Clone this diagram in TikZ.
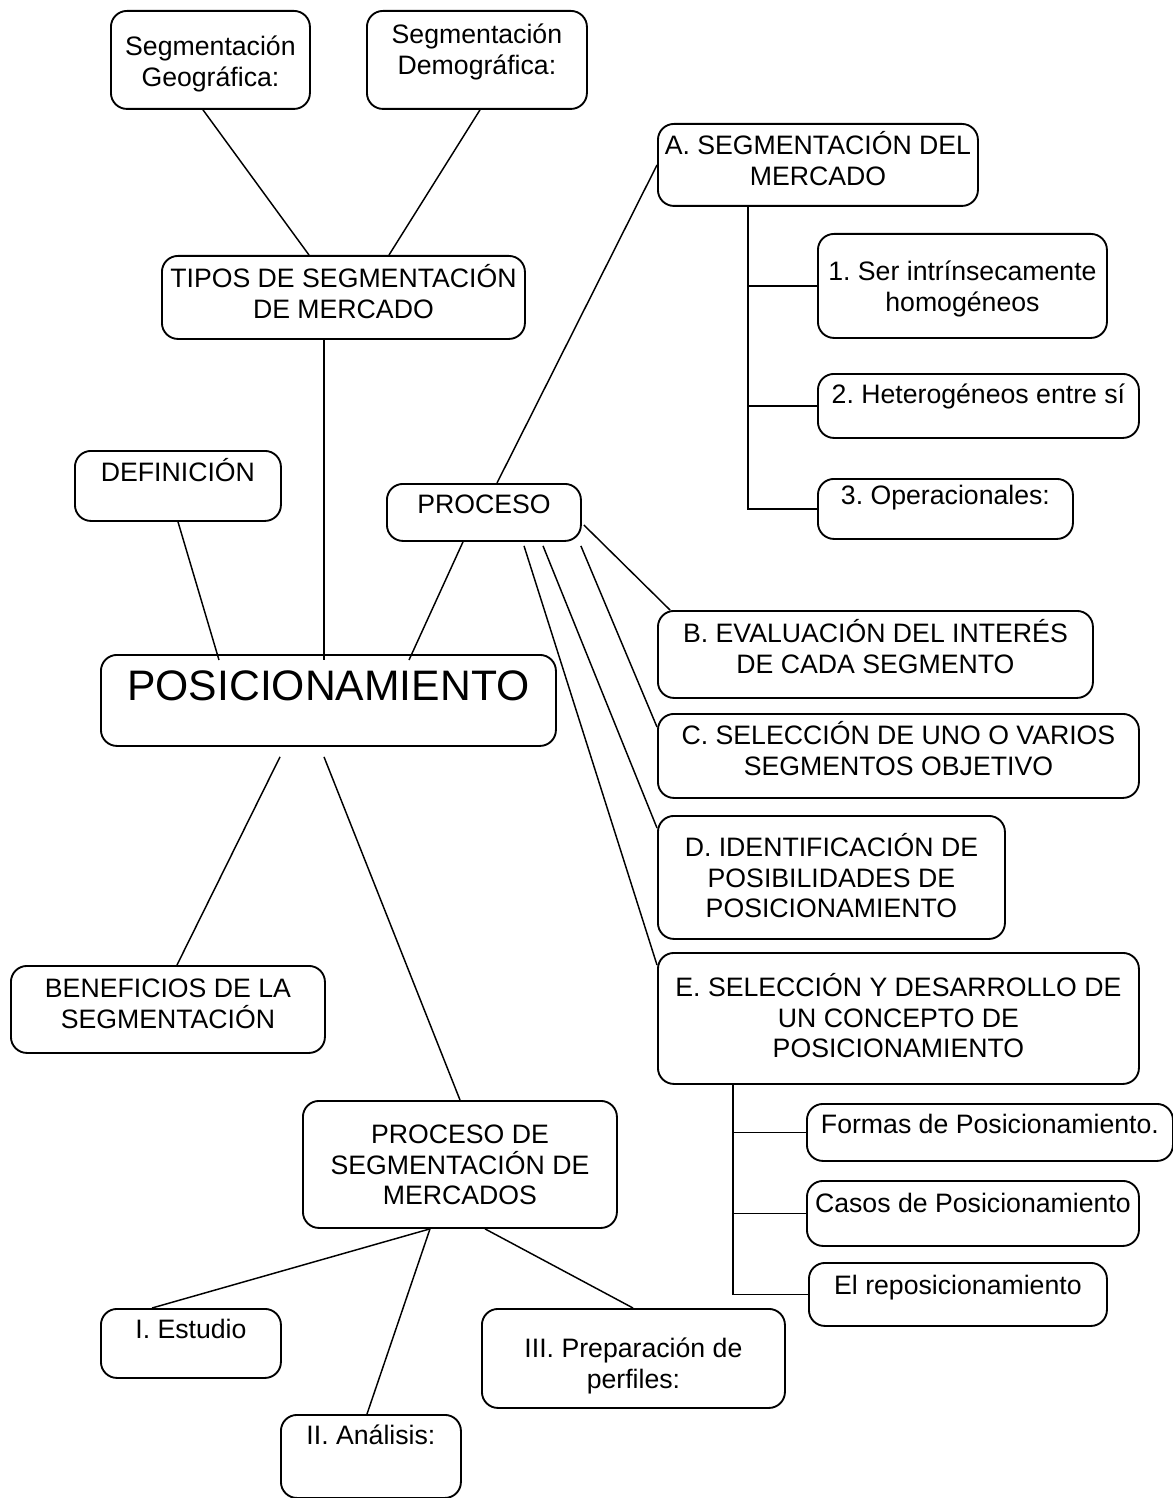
\documentclass[tikz,border=0pt]{standalone}
\usepackage{fontspec}
\setmainfont{Liberation Sans}
\usetikzlibrary{calc}
\frenchspacing

\newlength\px
\setlength\px{0.75pt}
% box content: width, height, top gap (px), text
\newcommand{\cardtext}[4]{\parbox[c][#2\px][t]{#1\px}{\centering\rule{0pt}{\dimexpr#3\px+7.2pt\relax}#4}}

\begin{document}
\begin{tikzpicture}[x=0.75pt,y=-0.75pt,
    card/.style={draw,line width=1.4pt,rounded corners=12pt,inner sep=0pt,anchor=north west},
    link/.style={line width=1.1pt},
    font=\fontsize{20}{23}\selectfont]
  \useasboundingbox (0,0) rectangle (1173,1498);

  % upper left branch
  \node[card] (geo) at (110,10) {\cardtext{199}{98}{35}{Segmentación\\Geográfica:}};
  \node[card] (demo) at (366,10) {\cardtext{220}{98}{23}{Segmentación\\Demográfica:}};
  \node[card] (tipos) at (161,255) {\cardtext{363}{83}{22}{TIPOS DE SEGMENTACIÓN\\DE MERCADO}};
  \node[card] (defin) at (74,450) {\cardtext{206}{70}{21}{DEFINICIÓN}};
  \node[card] (proc) at (386,483) {\cardtext{194}{57}{20}{PROCESO}};
  \node[card] (pos) at (100,654)
    {\cardtext{455}{91}{36}{\fontsize{32}{36}\selectfont POSICIONAMIENTO}};

  % process steps
  \node[card] (segA) at (657,123) {\cardtext{320}{82}{21}{A. SEGMENTACIÓN DEL\\MERCADO}};
  \node[card] (crit1) at (817,233) {\cardtext{289}{104}{37}{1. Ser intrínsecamente\\homogéneos}};
  \node[card] (crit2) at (817,373) {\cardtext{321}{64}{20}{2. Heterogéneos entre sí}};
  \node[card] (crit3) at (817,478) {\cardtext{255}{60}{16}{3. Operacionales:}};
  \node[card] (evalB) at (657,610) {\cardtext{435}{87}{22}{B. EVALUACIÓN DEL INTERÉS\\DE CADA SEGMENTO}};
  \node[card] (selC) at (657,713) {\cardtext{481}{84}{21}{C. SELECCIÓN DE UNO O VARIOS\\SEGMENTOS OBJETIVO}};
  \node[card] (idD) at (657,815)
    {\cardtext{347}{123}{31}{D. IDENTIFICACIÓN DE\\POSIBILIDADES DE\\POSICIONAMIENTO}};
  \node[card] (selE) at (657,952)
    {\cardtext{481}{131}{34}{E. SELECCIÓN Y DESARROLLO DE\\UN CONCEPTO DE\\POSICIONAMIENTO}};
  \node[card] (formas) at (806,1103) {\cardtext{366}{57}{20}{Formas de Posicionamiento.}};
  \node[card] (casos) at (806,1180) {\cardtext{332}{65}{22}{Casos de Posicionamiento}};
  \node[card] (repos) at (808,1262) {\cardtext{298}{63}{22}{El reposicionamiento}};

  % lower branch
  \node[card] (benef) at (10,965) {\cardtext{314}{87}{22}{BENEFICIOS DE LA\\SEGMENTACIÓN}};
  \node[card] (procseg) at (302,1100)
    {\cardtext{314}{127}{33}{PROCESO DE\\SEGMENTACIÓN DE\\MERCADOS}};
  \node[card] (estudio) at (100,1308) {\cardtext{180}{69}{20}{I. Estudio}};
  \node[card] (analisis) at (280,1414) {\cardtext{180}{83}{20}{II. Análisis:}};
  \node[card] (perfiles) at (481,1308) {\cardtext{303}{99}{39}{III. Preparación de\\perfiles:}};

  % connectors
  \draw[link] ($(geo.south west)+(93,0)$) -- ($(tipos.north west)+(148,0)$);
  \draw[link] ($(demo.south west)+(114,0)$) -- ($(tipos.north west)+(228,0)$);
  \draw[link] ($(tipos.south west)+(163,0)$) -- ($(pos.north west)+(224,6)$);
  \draw[link] ($(defin.south west)+(104,0)$) -- ($(pos.north west)+(119,6)$);
  \draw[link] ($(proc.south west)+(77,0)$) -- ($(pos.north west)+(309,6)$);
  \draw[link] ($(proc.north west)+(111,0)$) -- ($(segA.north west)+(0,42)$);
  \draw[link] ($(proc.north east)+(2,42)$) -- ($(evalB.north west)+(13,0)$);
  \draw[link] ($(proc.south east)+(-1,4)$) -- ($(selC.north west)+(0,14)$);
  \draw[link] ($(proc.south west)+(157,4)$) -- ($(idD.north west)+(0,13)$);
  \draw[link] ($(proc.south west)+(138,4)$) -- ($(selE.north west)+(0,13)$);
  \foreach \c in {crit1,crit2,crit3}
    \draw[link] ($(segA.south west)+(91,0)$) |- (\c.west);
  \foreach \c in {formas,casos,repos}
    \draw[link] ($(selE.south west)+(76,0)$) |- (\c.west);
  \draw[link] ($(pos.south west)+(180,10)$) -- ($(benef.north west)+(167,0)$);
  \draw[link] ($(pos.south west)+(224,10)$) -- ($(procseg.north west)+(158,0)$);
  \draw[link] ($(procseg.south west)+(128,0)$) -- ($(estudio.north west)+(52,0)$);
  \draw[link] ($(procseg.south west)+(128,0)$) -- ($(analisis.north west)+(87,0)$);
  \draw[link] ($(procseg.south west)+(183,0)$) -- ($(perfiles.north west)+(152,0)$);
\end{tikzpicture}
\end{document}
